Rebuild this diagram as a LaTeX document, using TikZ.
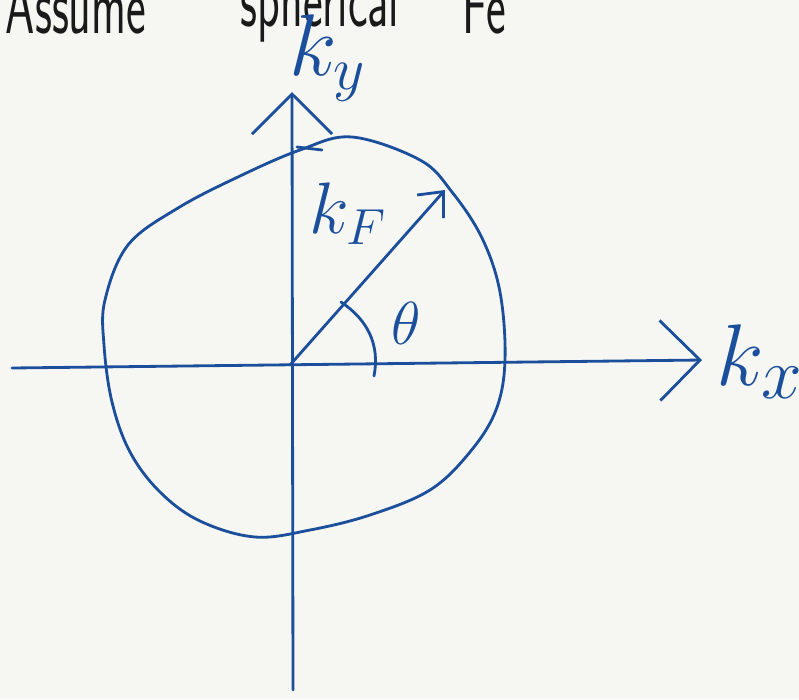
\documentclass[tikz,border=0pt]{standalone}
\usetikzlibrary{arrows.meta,positioning}
\definecolor{inkblue}{HTML}{1B4E9B}
\definecolor{inkblack}{HTML}{1A1A1A}
\definecolor{paper}{HTML}{F6F7F2}

\begin{document}
\begin{tikzpicture}[
  x=0.01cm, y=-0.01cm,
  line width=0.8pt,
  line cap=round, line join=round,
  axis/.style={-{Straight Barb[length=4mm, width=8mm]}, draw=inkblue},
  vec/.style={-{Straight Barb[length=2mm, width=3.5mm]}, draw=inkblue},
  curve/.style={draw=inkblue},
  tag/.style={text=inkblue, inner sep=0pt, font=\fontsize{25}{27}\selectfont},
  word/.style={text=inkblack, inner sep=0pt, anchor=base west, xscale=0.58, font=\sffamily\fontsize{23}{25}\selectfont}
]
  \fill[paper] (0,0) rectangle (799,699);
  \useasboundingbox (0,0) rectangle (799,699);
  \clip (0,0) rectangle (799,699);

  % heading, cut at the top
  \node[word] (w1) at (5,33) {Assume};
  \node[word] (w2) at (240,26) {spherical};
  \node[word] (w3) at (462,33) {Fe};

  % axes
  \coordinate (o) at (290,365);
  \coordinate (xl) at (12,368);
  \coordinate (xr) at (702,360);
  \coordinate (yb) at (293,690);
  \coordinate (yt) at (292,92);
  \draw[axis] (xl) -- (xr);
  \draw[axis] (yb) -- (yt);

  % Fermi sphere
  \draw[curve] plot[smooth cycle, tension=0.6] coordinates {
    (105,300) (128,245) (178,208) (240,176) (300,150) (352,137)
    (420,160) (452,192) (482,238) (500,292) (505,360) (496,410)
    (470,452) (430,490) (370,515) (310,530) (255,537) (200,521)
    (160,492) (130,452) (112,402) (104,345)};
  \draw[curve] (297,147) -- (322,150);

  % radius and angle
  \coordinate (kf) at (445,190);
  \draw[vec] (o) -- (kf);
  \coordinate (a1) at (341,302);
  \coordinate (a2) at (374,376);
  \draw[curve] (a1) .. controls (368,320) and (380,345) .. (a2);

  % labels
  \node[tag] (ky) at (328,58) {$k_y$};
  \node[tag, font=\fontsize{22}{24}\selectfont] (kF) at (348,214) {$k_F$};
  \node[tag, font=\fontsize{19}{21}\selectfont] (theta) at (406,323) {$\theta$};
  \node[tag, font=\fontsize{32}{34}\selectfont] (kx) at (760,362) {$k_x$};
\end{tikzpicture}
\end{document}
